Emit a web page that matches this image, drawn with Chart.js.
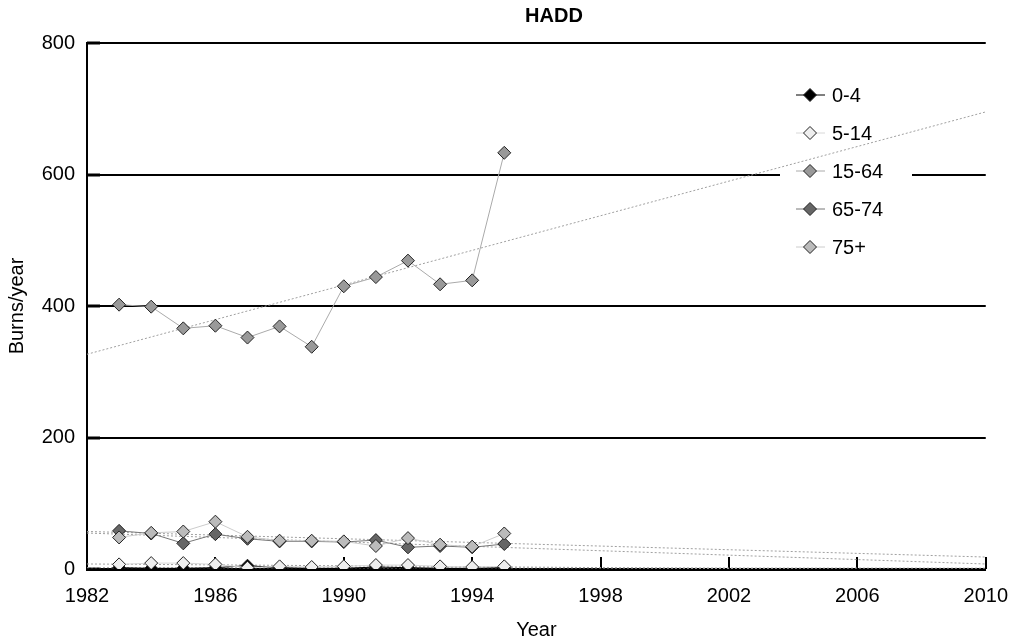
<!DOCTYPE html>
<html>
<head>
<meta charset="utf-8">
<script src="https://cdn.jsdelivr.net/npm/chart.js@4.4.0/dist/chart.umd.min.js"></script>
<style>
  html, body { margin: 0; padding: 0; background: #fff; }
  #wrap { width: 1023px; height: 642px; }
</style>
</head>
<body>
<div id="wrap"><canvas id="chart" width="1023" height="642"></canvas></div>
<script>
// data (burns per year by age group)
const years = [1983, 1984, 1985, 1986, 1987, 1988, 1989, 1990, 1991, 1992, 1993, 1994, 1995];
const age0to4 = [2, 1, 1, 2, 5, 2, 1, 1, 3, 2, 1, 1, 2];
const age5to14 = [7, 9, 9, 7, 2, 4, 3, 4, 6, 6, 4, 3, 4];
const age15to64 = [402, 399, 366, 370, 352, 369, 338, 430, 444, 469, 433, 439, 633];
const age65to74 = [58, 54, 39, 53, 46, 42, 42, 41, 44, 33, 35, 33, 38];
const age75plus = [48, 55, 57, 72, 49, 43, 43, 42, 35, 47, 37, 34, 54];

const seriesNames = ["0-4", "5-14", "15-64", "65-74", "75+"];
const xTicks = [1982, 1986, 1990, 1994, 1998, 2002, 2006, 2010];
const yTicks = [0, 200, 400, 600, 800];

const FONT = "'Liberation Sans', Arial, Helvetica, sans-serif";

// linear trend (least squares) over the full x range
function trendLine(values) {
  const n = years.length;
  const mx = years.reduce((a, b) => a + b, 0) / n;
  const my = values.reduce((a, b) => a + b, 0) / n;
  let sxy = 0, sxx = 0;
  years.forEach((x, i) => {
    sxy += (x - mx) * (values[i] - my);
    sxx += (x - mx) * (x - mx);
  });
  const slope = sxy / sxx;
  const ends = [xTicks[0], xTicks[xTicks.length - 1]];
  return ends.map(x => ({ x: x, y: my + slope * (x - mx) }));
}

function points(values) {
  return years.map((yr, i) => ({ x: yr, y: values[i] }));
}

function series(label, values, fill, line, order) {
  return {
    label: label,
    data: points(values),
    borderColor: line,
    borderWidth: 1,
    backgroundColor: fill,
    pointStyle: "rectRot",
    pointRadius: 6.5,
    pointBackgroundColor: fill,
    pointBorderColor: "#222",
    pointBorderWidth: 1,
    tension: 0,
    order: order,
  };
}

function trend(values) {
  return {
    label: "trend",
    data: trendLine(values),
    borderColor: "#a0a0a0",
    borderWidth: 1,
    borderDash: [2, 2],
    pointRadius: 0,
    order: 10,
  };
}

const mainSeries = [
  series(seriesNames[0], age0to4, "#000", "#000", 5),
  series(seriesNames[1], age5to14, "#eeeeee", "#d8d8d8", 4),
  series(seriesNames[2], age15to64, "#999999", "#aaaaaa", 3),
  series(seriesNames[3], age65to74, "#666666", "#777777", 2),
  series(seriesNames[4], age75plus, "#bbbbbb", "#cccccc", 1),
];

// legend with white box, drawn after the grid and before the data
const boxLegend = {
  id: "boxLegend",
  beforeDatasetsDraw(chart) {
    const ctx = chart.ctx;
    ctx.save();
    ctx.fillStyle = "#fff";
    ctx.fillRect(780, 75, 132, 190);
    mainSeries.forEach((ds, i) => {
      const y = 95 + i * 38;
      ctx.strokeStyle = ds.borderColor;
      ctx.lineWidth = 1;
      ctx.beginPath();
      ctx.moveTo(796, y);
      ctx.lineTo(825, y);
      ctx.stroke();
      const r = 6.5;
      ctx.beginPath();
      ctx.moveTo(810, y - r);
      ctx.lineTo(810 + r, y);
      ctx.lineTo(810, y + r);
      ctx.lineTo(810 - r, y);
      ctx.closePath();
      ctx.fillStyle = ds.pointBackgroundColor;
      ctx.fill();
      ctx.strokeStyle = "#222";
      ctx.stroke();
      ctx.fillStyle = "#000";
      ctx.font = "20px " + FONT;
      ctx.textAlign = "left";
      ctx.textBaseline = "middle";
      ctx.fillText(ds.label, 832, y + 1);
    });
    ctx.restore();
  },
};

// tick marks point into the plot area
const innerTicks = {
  id: "innerTicks",
  beforeDatasetsDraw(chart) {
    const ctx = chart.ctx;
    const xs = chart.scales.x, ys = chart.scales.y;
    const area = chart.chartArea;
    ctx.save();
    ctx.strokeStyle = "#000";
    ctx.lineWidth = 3;
    yTicks.forEach(v => {
      const py = Math.round(ys.getPixelForValue(v));
      ctx.beginPath();
      ctx.moveTo(area.left, py);
      ctx.lineTo(area.left + 13, py);
      ctx.stroke();
    });
    ctx.lineWidth = 2;
    xTicks.forEach(v => {
      const px = Math.round(xs.getPixelForValue(v));
      ctx.beginPath();
      ctx.moveTo(px, area.bottom);
      ctx.lineTo(px, area.bottom - 12);
      ctx.stroke();
    });
    ctx.restore();
  },
};

const titleText = {
  id: "titleText",
  afterDraw(chart) {
    const ctx = chart.ctx;
    ctx.save();
    ctx.fillStyle = "#000";
    ctx.font = "bold 20px " + FONT;
    ctx.textAlign = "center";
    ctx.textBaseline = "middle";
    ctx.fillText("HADD", 554, 16);
    ctx.restore();
  },
};

new Chart(document.getElementById("chart"), {
  type: "line",
  data: {
    datasets: mainSeries.concat([
      trend(age0to4),
      trend(age5to14),
      trend(age15to64),
      trend(age65to74),
      trend(age75plus),
    ]),
  },
  options: {
    responsive: false,
    animation: false,
    layout: { padding: { top: 43, right: 36, left: 0, bottom: 0 } },
    plugins: {
      legend: { display: false },
      title: { display: false },
      tooltip: { enabled: false },
    },
    scales: {
      x: {
        type: "linear",
        min: 1982,
        max: 2010,
        afterFit: (scale) => { scale.height = 73; },
        afterBuildTicks: (scale) => { scale.ticks = xTicks.map(v => ({ value: v })); },
        grid: { display: false, drawTicks: false },
        border: { display: true, color: "#000", width: 3 },
        ticks: {
          color: "#000",
          font: { size: 20, family: FONT },
          padding: 15,
          maxRotation: 0,
          callback: (v) => String(v),
        },
        title: {
          display: true,
          text: "Year",
          color: "#000",
          font: { size: 20, family: FONT },
          padding: { top: 8, bottom: 0 },
        },
      },
      y: {
        min: 0,
        max: 800,
        afterFit: (scale) => { scale.width = 87; },
        afterBuildTicks: (scale) => { scale.ticks = yTicks.map(v => ({ value: v })); },
        grid: { color: "#000", lineWidth: 2, drawTicks: false },
        border: { display: true, color: "#000", width: 2 },
        ticks: {
          color: "#000",
          font: { size: 20, family: FONT },
          padding: 12,
        },
        title: {
          display: true,
          text: "Burns/year",
          color: "#000",
          font: { size: 20, family: FONT },
          padding: { top: 5, bottom: 0 },
        },
      },
    },
  },
  plugins: [boxLegend, innerTicks, titleText],
});
</script>
</body>
</html>
